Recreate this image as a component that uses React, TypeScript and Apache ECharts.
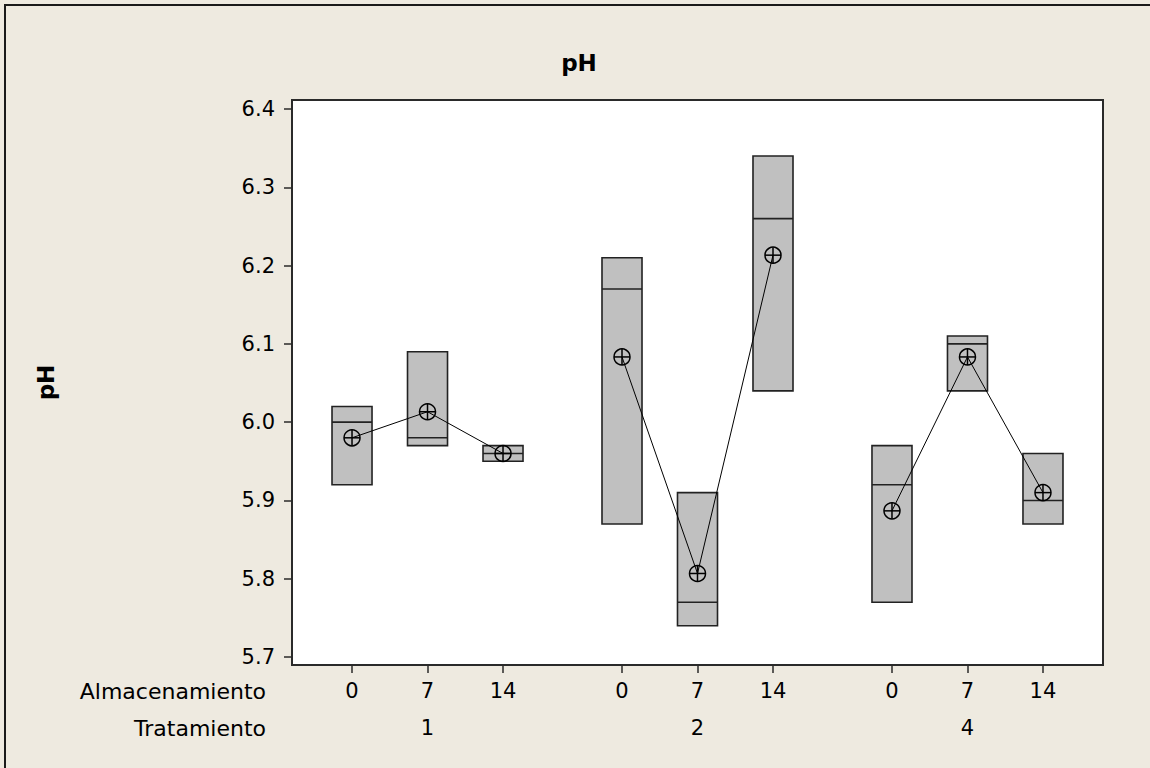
import React, { useEffect, useRef } from "react";
import * as echarts from "echarts";

// ---- Data ----
const storageLabels = ["0", "7", "14"];
const treatmentLabels = ["1", "2", "4"];
// per (treatment, storage) cell, in order T1:0,7,14  T2:0,7,14  T4:0,7,14
const boxLow = [5.92, 5.97, 5.95, 5.87, 5.74, 6.04, 5.77, 6.04, 5.87];
const boxMedian = [6.0, 5.98, 5.96, 6.17, 5.77, 6.26, 5.92, 6.1, 5.9];
const boxHigh = [6.02, 6.09, 5.97, 6.21, 5.91, 6.34, 5.97, 6.11, 5.96];
const means = [5.98, 6.0133, 5.96, 6.0833, 5.8067, 6.2133, 5.8867, 6.0833, 5.91];
const yTicks = [5.7, 5.8, 5.9, 6.0, 6.1, 6.2, 6.3, 6.4];

// ---- Layout constants ----
const GROUP_STEP = 3.576;
const BOX_W = 0.53;
const FONT = "DejaVu Sans";

const xPos = (i: number) => Math.floor(i / 3) * GROUP_STEP + (i % 3);

export default function App() {
  const ref = useRef<HTMLDivElement>(null);
  useEffect(() => {
    document.body.style.margin = "0";
    const chart = echarts.init(ref.current!, null, { renderer: "svg" });

    const boxData = boxLow.map((lo, i) => [xPos(i), lo, boxMedian[i], boxHigh[i]]);
    const meanData = means.map((m, i) => [xPos(i), m]);
    const storageTickVals = boxLow.map((_, i) => xPos(i));
    const treatTickVals = treatmentLabels.map((_, g) => g * GROUP_STEP + 1);

    const lineSeries = treatmentLabels.map((_, g) => ({
      type: "line",
      data: meanData.slice(g * 3, g * 3 + 3),
      symbol: "none",
      lineStyle: { color: "#000", width: 1 },
      z: 3,
      silent: true,
    }));

    const labelFor = (vals: number[], labels: string[]) => (v: number) => {
      let best = 0;
      let bd = Infinity;
      vals.forEach((t, k) => {
        const d = Math.abs(t - v);
        if (d < bd) {
          bd = d;
          best = k;
        }
      });
      return labels[best];
    };

    chart.setOption({
      animation: false,
      backgroundColor: "#EEEAE0",
      title: {
        text: "pH",
        left: 574,
        textAlign: "center",
        top: 46,
        textStyle: { fontFamily: FONT, fontWeight: "bold", fontSize: 23, color: "#000" },
      },
      graphic: [
        {
          type: "rect",
          shape: { x: 5, y: 5, width: 1200, height: 800 },
          style: { fill: "none", stroke: "#1a1a1a", lineWidth: 2 },
          silent: true,
        },
        {
          type: "text",
          x: 266,
          y: 691,
          style: {
            text: "Almacenamiento",
            font: `22px "${FONT}"`,
            fill: "#000",
            textAlign: "right",
            textVerticalAlign: "middle",
          },
        },
        {
          type: "text",
          x: 266,
          y: 728,
          style: {
            text: "Tratamiento",
            font: `22px "${FONT}"`,
            fill: "#000",
            textAlign: "right",
            textVerticalAlign: "middle",
          },
        },
      ],
      grid: {
        left: 292,
        top: 100,
        width: 811,
        height: 565,
        show: true,
        backgroundColor: "#fff",
        borderColor: "#2a2a2a",
        borderWidth: 2,
      },
      xAxis: [
        {
          type: "value",
          min: -0.795,
          max: 2 * GROUP_STEP + 2 + 0.795,
          axisLine: { show: false, onZero: false },
          splitLine: { show: false },
          axisTick: {
            show: true,
            customValues: storageTickVals,
            length: 8,
            lineStyle: { color: "#2a2a2a", width: 1.5 },
          },
          axisLabel: {
            show: true,
            customValues: storageTickVals,
            margin: 15,
            fontFamily: FONT,
            fontSize: 21,
            color: "#000",
            formatter: labelFor(storageTickVals, storageTickVals.map((_, k) => storageLabels[k % 3])),
          },
        },
        {
          type: "value",
          position: "bottom",
          offset: 37,
          min: -0.795,
          max: 2 * GROUP_STEP + 2 + 0.795,
          axisLine: { show: false, onZero: false },
          splitLine: { show: false },
          axisTick: { show: false },
          axisLabel: {
            show: true,
            customValues: treatTickVals,
            margin: 15,
            fontFamily: FONT,
            fontSize: 21,
            color: "#000",
            formatter: labelFor(treatTickVals, treatmentLabels),
          },
        },
      ],
      yAxis: {
        type: "value",
        min: 5.6898,
        max: 6.4115,
        name: "pH",
        nameLocation: "middle",
        nameRotate: 90,
        nameGap: 235,
        nameTextStyle: { fontFamily: FONT, fontWeight: "bold", fontSize: 23, color: "#000" },
        axisLine: { show: false, onZero: false },
        splitLine: { show: false },
        axisTick: {
          show: true,
          customValues: yTicks,
          length: 8,
          lineStyle: { color: "#2a2a2a", width: 1.5 },
        },
        axisLabel: {
          show: true,
          customValues: yTicks,
          margin: 17,
          fontFamily: FONT,
          fontSize: 21,
          color: "#000",
          formatter: (v: number) => v.toFixed(1),
        },
      },
      series: [
        {
          type: "custom",
          xAxisIndex: 0,
          data: boxData,
          encode: { x: 0, y: [1, 2, 3] },
          z: 2,
          silent: true,
          renderItem: (params: any, api: any) => {
            const x = api.value(0);
            const pTop = api.coord([x, api.value(3)]);
            const pBot = api.coord([x, api.value(1)]);
            const pMed = api.coord([x, api.value(2)]);
            const w = api.size([BOX_W, 0])[0];
            return {
              type: "group",
              children: [
                {
                  type: "rect",
                  shape: { x: pTop[0] - w / 2, y: pTop[1], width: w, height: pBot[1] - pTop[1] },
                  style: { fill: "#C0C0C0", stroke: "#222", lineWidth: 1.6 },
                },
                {
                  type: "line",
                  shape: { x1: pMed[0] - w / 2, y1: pMed[1], x2: pMed[0] + w / 2, y2: pMed[1] },
                  style: { stroke: "#222", lineWidth: 1.6 },
                },
              ],
            };
          },
        },
        ...lineSeries,
        {
          type: "custom",
          xAxisIndex: 0,
          data: meanData,
          encode: { x: 0, y: 1 },
          z: 4,
          silent: true,
          renderItem: (params: any, api: any) => {
            const p = api.coord([api.value(0), api.value(1)]);
            const r = 8;
            return {
              type: "group",
              children: [
                {
                  type: "circle",
                  shape: { cx: p[0], cy: p[1], r },
                  style: { fill: "none", stroke: "#000", lineWidth: 1.5 },
                },
                {
                  type: "line",
                  shape: { x1: p[0] - r, y1: p[1], x2: p[0] + r, y2: p[1] },
                  style: { stroke: "#000", lineWidth: 1.5 },
                },
                {
                  type: "line",
                  shape: { x1: p[0], y1: p[1] - r, x2: p[0], y2: p[1] + r },
                  style: { stroke: "#000", lineWidth: 1.5 },
                },
              ],
            };
          },
        },
      ],
    });
    return () => chart.dispose();
  }, []);
  return <div ref={ref} style={{ width: 1150, height: 768 }} />;
}
